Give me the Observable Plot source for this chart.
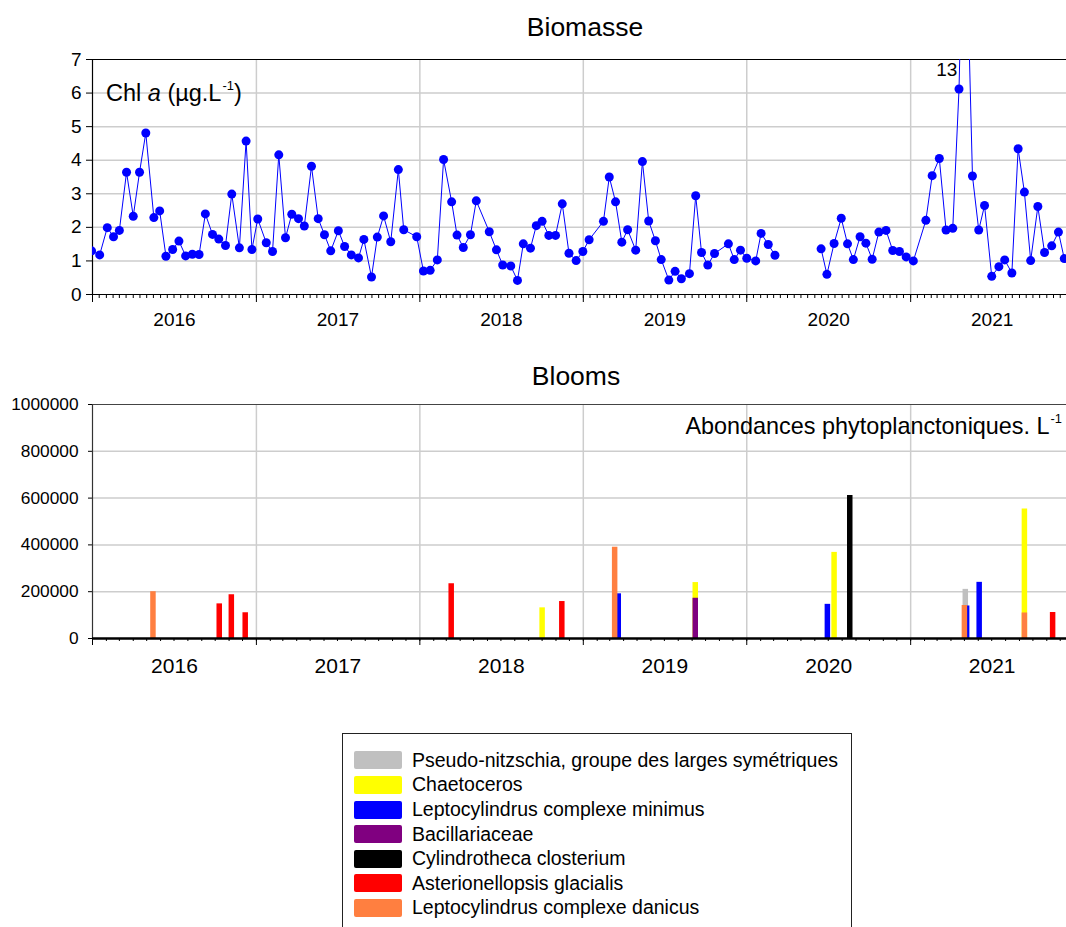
<!DOCTYPE html>
<html>
<head>
<meta charset="utf-8">
<script src="https://cdn.jsdelivr.net/npm/d3@7"></script>
<script src="https://cdn.jsdelivr.net/npm/@observablehq/plot@0.6"></script>
<style>
  html, body { margin: 0; padding: 0; background: #fff; overflow: hidden; }
  body { width: 1066px; height: 927px; position: relative; font-family: "Liberation Sans", Arial, Helvetica, sans-serif; color: #000; }
  .abs { position: absolute; white-space: nowrap; line-height: normal; }
  .sup { font-size: 0.55em; position: relative; top: -0.85em; margin-left: 1px; }
  #legend { position: absolute; left: 342px; top: 733px; width: 508px; height: 210px; border: 1px solid #222; background: #fff; }
  .row { position: absolute; left: 0; height: 24px; display: flex; align-items: center; font-size: 19.5px; }
  .sw { width: 48px; height: 18px; border-radius: 2px; margin-left: 11px; margin-right: 10px; }
  svg { position: absolute; left: 0; }
</style>
</head>
<body>
<div class="abs" style="left:0;width:1170px;text-align:center;top:12px;font-size:26.5px;">Biomasse</div>
<div class="abs" style="left:0;width:1152px;text-align:center;top:361px;font-size:26.5px;">Blooms</div>
<div id="top"></div>
<div id="bottom"></div>
<div class="abs" style="left:106px;top:80px;font-size:23.5px;">Chl <i>a</i> (µg.L<span class="sup">-1</span>)</div>
<div class="abs" style="right:4px;top:413px;font-size:23.4px;">Abondances phytoplanctoniques. L<span class="sup">-1</span></div>
<div id="legend"></div>
<script>
// ---------- data ----------
const yearLabels = ["2016", "2017", "2018", "2019", "2020", "2021"];

const chlDates = [
  "2015-12-30","2016-01-17","2016-02-03","2016-02-17","2016-03-01","2016-03-17","2016-04-01","2016-04-15","2016-04-29",
  "2016-05-17","2016-05-30","2016-06-13","2016-06-28","2016-07-12","2016-07-27","2016-08-11","2016-08-26","2016-09-09",
  "2016-09-25","2016-10-09","2016-10-24","2016-11-07","2016-11-24","2016-12-09","2016-12-22",
  "2017-01-04","2017-01-23","2017-02-06","2017-02-20","2017-03-07","2017-03-21","2017-04-05","2017-04-18","2017-05-04",
  "2017-05-19","2017-06-02","2017-06-16","2017-07-03","2017-07-17","2017-08-01","2017-08-17","2017-08-29","2017-09-15",
  "2017-09-28","2017-10-12","2017-10-28","2017-11-14","2017-11-26","2017-12-25",
  "2018-01-09","2018-01-24","2018-02-09","2018-02-23","2018-03-13","2018-03-25","2018-04-08","2018-04-24","2018-05-07",
  "2018-06-05","2018-06-21","2018-07-05","2018-07-23","2018-08-07","2018-08-20","2018-09-05","2018-09-18","2018-10-01",
  "2018-10-16","2018-10-31","2018-11-15","2018-11-30","2018-12-16","2018-12-31",
  "2019-01-14","2019-02-15","2019-02-28","2019-03-14","2019-03-28","2019-04-10","2019-04-28","2019-05-13","2019-05-27",
  "2019-06-11","2019-06-24","2019-07-11","2019-07-25","2019-08-08","2019-08-26","2019-09-09","2019-09-22","2019-10-06",
  "2019-10-21","2019-11-21","2019-12-04","2019-12-18",
  "2020-01-01","2020-01-21","2020-02-02","2020-02-18","2020-03-04","2020-04-20","2020-06-15","2020-06-28","2020-07-14",
  "2020-07-30","2020-08-13","2020-08-26","2020-09-10","2020-09-23","2020-10-07","2020-10-22","2020-11-07","2020-11-22",
  "2020-12-07","2020-12-22",
  "2021-01-07","2021-02-04","2021-02-18","2021-03-06","2021-03-21","2021-04-05","2021-04-19","2021-05-01","2021-05-19",
  "2021-06-02","2021-06-15","2021-07-01","2021-07-17","2021-07-30","2021-08-15","2021-08-29","2021-09-12","2021-09-26",
  "2021-10-12","2021-10-27","2021-11-12","2021-11-27","2021-12-10"
];
const chlValues = [
  1.30,1.18,1.99,1.72,1.91,3.64,2.33,3.64,4.81,
  2.29,2.49,1.14,1.34,1.59,1.15,1.20,1.19,2.40,
  1.79,1.65,1.46,2.99,1.39,4.57,1.34,
  2.25,1.54,1.28,4.16,1.69,2.39,2.26,2.04,3.82,
  2.26,1.78,1.30,1.90,1.43,1.18,1.09,1.64,0.52,
  1.71,2.34,1.57,3.72,1.93,1.72,
  0.70,0.72,1.03,4.02,2.76,1.77,1.40,1.78,2.79,
  1.87,1.33,0.88,0.85,0.42,1.51,1.38,2.05,2.18,
  1.76,1.76,2.70,1.23,1.01,1.28,
  1.63,2.18,3.50,2.76,1.56,1.93,1.32,3.96,2.19,
  1.60,1.04,0.43,0.69,0.47,0.62,2.94,1.25,0.88,
  1.22,1.51,1.04,1.32,
  1.08,1.00,1.82,1.49,1.17,null,1.36,0.60,1.52,
  2.27,1.51,1.04,1.72,1.53,1.05,1.86,1.91,1.31,
  1.28,1.12,
  1.00,2.21,3.54,4.05,1.92,1.97,6.12,13,3.53,
  1.92,2.65,0.54,0.83,1.03,0.64,4.34,3.05,1.01,
  2.62,1.25,1.45,1.86,1.07
];

const bloomTaxa = [
  "Pseudo-nitzschia, groupe des larges symétriques",
  "Chaetoceros",
  "Leptocylindrus complexe minimus",
  "Bacillariaceae",
  "Cylindrotheca closterium",
  "Asterionellopsis glacialis",
  "Leptocylindrus complexe danicus"
];
const bloomColors = ["#c0c0c0", "#ffff00", "#0000ff", "#800080", "#000000", "#ff0000", "#ff7f40"];

const bloomTaxon = [
  0,
  1, 1, 1, 1,
  2, 2, 2, 2,
  3,
  4,
  5, 5, 5, 5, 5, 5,
  6, 6, 6, 6
];
const bloomDates = [
  "2021-05-03",
  "2018-10-01", "2019-09-08", "2020-07-14", "2021-09-12",
  "2019-03-20", "2020-06-29", "2021-05-06", "2021-06-03",
  "2019-09-08",
  "2020-08-18",
  "2016-10-10", "2016-11-06", "2016-12-07", "2018-03-12", "2018-11-14", "2021-11-14",
  "2016-05-15", "2019-03-12", "2021-05-01", "2021-09-12"
];
const bloomValues = [
  210000,
  131000, 239000, 368000, 553000,
  191000, 146000, 139000, 240000,
  172000,
  611000,
  148000, 187000, 110000, 234000, 158000, 111000,
  200000, 390000, 141000, 109000
];

// ---------- build ----------
const parse = d3.utcParse("%Y-%m-%d");
const chl = chlDates.map((d, i) => ({date: parse(d), value: chlValues[i]}));
const blooms = bloomDates.map((d, i) => ({date: parse(d), taxon: bloomTaxa[bloomTaxon[i]], value: bloomValues[i], order: bloomTaxon[i]}))
  .sort((a, b) => a.order - b.order);

const x0 = new Date(Date.UTC(2016, 0, 1));
const x1 = new Date(Date.UTC(2021, 11, 15));
const yearStarts = yearLabels.map(y => new Date(Date.UTC(+y, 0, 1)));
const yearInner = yearStarts.slice(1);
const mids = yearLabels.map(y => new Date(Date.UTC(+y, 6, 2)));
const months = d3.utcMonth.range(x0, x1);
const halfMonths = months.flatMap(m => [m, new Date(Date.UTC(m.getUTCFullYear(), m.getUTCMonth(), 16))]).filter(d => d <= x1);
const yearFmt = d => yearLabels[d.getUTCFullYear() - 2016];
const gridColor = "#cdcdcd";
const font = "'Liberation Sans', Arial, Helvetica, sans-serif";

const topPlot = Plot.plot({
  width: 1066, height: 285,
  marginLeft: 92, marginRight: 0, marginTop: 10, marginBottom: 40,
  style: {fontFamily: font, fontSize: "19px", color: "#000", background: "transparent", overflow: "visible"},
  x: {type: "utc", domain: [x0, x1]},
  y: {domain: [0, 7]},
  marks: [
    Plot.gridY([1, 2, 3, 4, 5, 6], {stroke: gridColor, strokeOpacity: 1, strokeWidth: 1.5}),
    Plot.gridX(yearInner, {stroke: gridColor, strokeOpacity: 1, strokeWidth: 1.5}),
    Plot.axisY([0, 1, 2, 3, 4, 5, 6, 7], {tickSize: 6, tickPadding: 5, label: null, fontSize: 19}),
    Plot.axisX(halfMonths, {tickSize: 4, tickFormat: () => "", label: null}),
    Plot.axisX(yearStarts, {tickSize: 8, tickFormat: () => "", label: null}),
    Plot.axisX(mids, {tickSize: 0, tickPadding: 18, tickFormat: yearFmt, label: null, fontSize: 19}),
    Plot.ruleY([7], {stroke: "#000", strokeWidth: 1.2}),
    Plot.ruleX([x0], {stroke: "#000", strokeWidth: 1.2}),
    Plot.ruleY([0], {stroke: "#000", strokeWidth: 1.2}),
    Plot.line(chl, {x: "date", y: "value", stroke: "#0000ff", strokeWidth: 1, clip: true}),
    Plot.dot(chl.filter(d => d.value != null), {x: "date", y: "value", r: 4.5, fill: "#0000ff", stroke: "none", clip: true}),
    Plot.text(chl.filter(d => d.value > 7), {x: "date", y: () => 7, text: d => String(d.value), textAnchor: "end", dx: -7, dy: 10, fontSize: 19})
  ]
});
topPlot.style.top = "49px";
document.getElementById("top").appendChild(topPlot);

const bottomPlot = Plot.plot({
  width: 1066, height: 294,
  marginLeft: 92, marginRight: 0, marginTop: 10, marginBottom: 50,
  style: {fontFamily: font, fontSize: "17px", color: "#000", background: "transparent", overflow: "visible"},
  x: {type: "utc", domain: [x0, x1]},
  y: {domain: [0, 1000000]},
  color: {domain: bloomTaxa, range: bloomColors},
  marks: [
    Plot.gridY([200000, 400000, 600000, 800000], {stroke: gridColor, strokeOpacity: 1, strokeWidth: 1.5}),
    Plot.gridX(yearInner, {stroke: gridColor, strokeOpacity: 1, strokeWidth: 1.5}),
    Plot.axisY([0, 200000, 400000, 600000, 800000, 1000000], {tickSize: 4, tickPadding: 10, tickFormat: "d", label: null, fontSize: 17.3}),
    Plot.axisX(months, {tickSize: 3, tickFormat: () => "", label: null}),
    Plot.axisX(yearStarts, {tickSize: 7, tickFormat: () => "", label: null}),
    Plot.axisX(mids, {tickSize: 0, tickPadding: 20, tickFormat: yearFmt, label: null, fontSize: 21}),
    Plot.ruleY([1000000], {stroke: "#444", strokeWidth: 1.2}),
    Plot.ruleX([x0], {stroke: "#333", strokeWidth: 1.2}),
    Plot.ruleX(blooms, {x: "date", y1: 0, y2: "value", stroke: "taxon", strokeWidth: 5.5, strokeLinecap: "butt"}),
    Plot.ruleY([0], {stroke: "#000", strokeWidth: 2.5})
  ]
});
bottomPlot.style.top = "394px";
document.getElementById("bottom").appendChild(bottomPlot);

// ---------- legend ----------
const legend = document.getElementById("legend");
bloomTaxa.forEach((name, i) => {
  const row = document.createElement("div");
  row.className = "row";
  row.style.top = (14.3 + i * 24.6) + "px";
  const sw = document.createElement("div");
  sw.className = "sw";
  sw.style.background = bloomColors[i];
  const tx = document.createElement("span");
  tx.textContent = name;
  row.appendChild(sw);
  row.appendChild(tx);
  legend.appendChild(row);
});
</script>
</body>
</html>
